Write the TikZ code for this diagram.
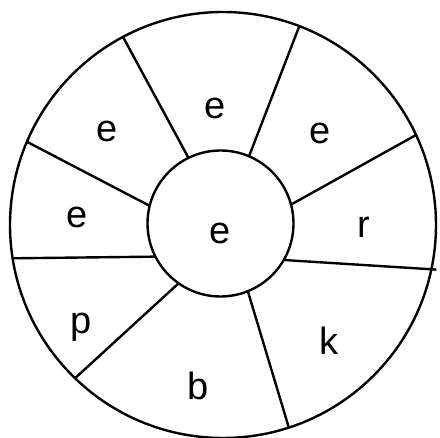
\documentclass[tikz,border=0pt]{standalone}
\usepackage{fontspec}
\setmainfont{Liberation Sans}
\usepackage{tikz}
\usetikzlibrary{positioning}

\begin{document}
\begin{tikzpicture}[x=1pt, y=-1pt, line width=2.4pt,
    ring/.style={draw, circle, inner sep=0pt, outer sep=0pt},
    letter/.style={font=\fontsize{38}{40}\selectfont, inner sep=0pt}]
  \useasboundingbox (0,0) rectangle (440,438);
  % wheel
  \node[ring, minimum size=426pt] (rim) at (223,225) {};
  \node[ring, minimum size=146pt] (hub) at (220.5,223.5) {};
  % spokes
  \draw (hub.116.4) -- (rim.118);
  \draw (hub.67.7) -- (rim.69.8);
  \draw (hub.15.3) -- (rim.25.1);
  \draw[shorten >=-5pt] (hub.-30.6) -- (rim.-12.2);
  \draw (hub.-68.1) -- (rim.-72.4);
  \draw (hub.-125.7) -- (rim.-134.4);
  \draw (hub.207.8) -- (rim.189.2);
  \draw (hub.166.4) -- (rim.157.9);
  % letters
  \node[letter] (mid) at (220,233) {e};
  \node[letter] (top) at (215,108) {e};
  \node[letter] (topright) at (320,133) {e};
  \node[letter] (right) at (364,227) {r};
  \node[letter] (lowright) at (329,341) {k};
  \node[letter] (bottom) at (198,386) {b};
  \node[letter] (lowleft) at (81,327) {p};
  \node[letter] (left) at (77,217) {e};
  \node[letter] (topleft) at (107,131) {e};
\end{tikzpicture}
\end{document}
